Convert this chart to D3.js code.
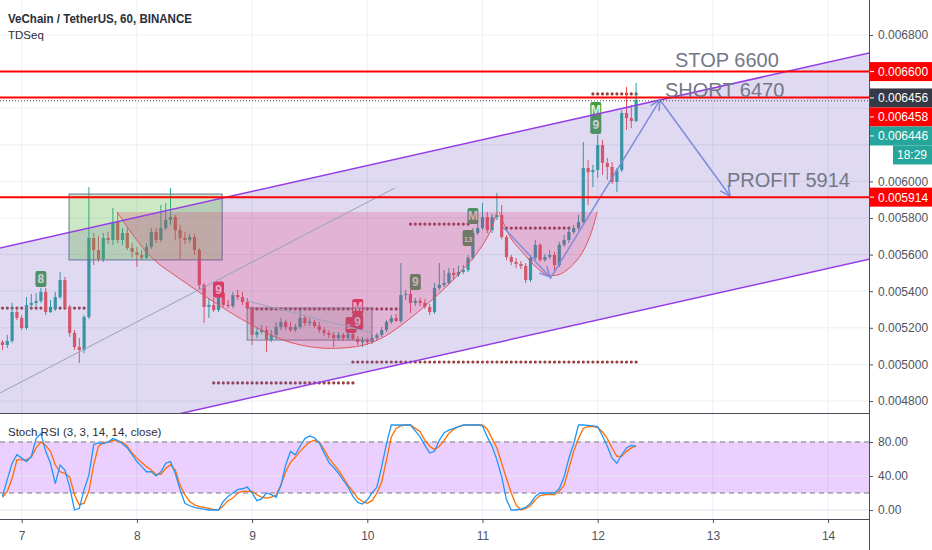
<!DOCTYPE html>
<html>
<head>
<meta charset="utf-8">
<script src="https://cdn.jsdelivr.net/npm/d3@7"></script>
<style>
  body { margin: 0; background: #fff; }
  svg { display: block; font-family: "Liberation Sans", Arial, sans-serif; }
</style>
</head>
<body>
<svg width="932" height="550"></svg>
<script>
// VET/USDT hourly bars, first bar opens on the 6th at 20:00
var firstBar = Date.UTC(2019, 9, 6, 20);

var open = [0.005122,0.005106,0.005128,0.005286,0.005254,0.005199,0.005325,0.005336,0.005347,0.005396,
  0.005286,0.005303,0.005368,0.005461,0.005314,0.005172,0.005095,0.005079,0.005259,0.005691,
  0.005625,0.005576,0.005691,0.005680,0.005778,0.005680,0.005718,0.005636,0.005614,0.005598,
  0.005582,0.005642,0.005724,0.005680,0.005745,0.005789,0.005805,0.005734,0.005691,0.005680,
  0.005696,0.005625,0.005434,0.005314,0.005325,0.005297,0.005390,0.005325,0.005319,0.005379,
  0.005368,0.005341,0.005308,0.005161,0.005177,0.005188,0.005133,0.005161,0.005204,0.005232,
  0.005204,0.005188,0.005204,0.005254,0.005226,0.005232,0.005210,0.005188,0.005172,0.005161,
  0.005144,0.005161,0.005144,0.005166,0.005139,0.005122,0.005133,0.005122,0.005144,0.005161,
  0.005188,0.005232,0.005254,0.005237,0.005379,0.005385,0.005336,0.005347,0.005336,0.005314,
  0.005286,0.005418,0.005434,0.005445,0.005500,0.005489,0.005505,0.005516,0.005582,0.005718,
  0.005745,0.005805,0.005734,0.005805,0.005816,0.005696,0.005587,0.005560,0.005549,0.005538,
  0.005461,0.005582,0.005653,0.005571,0.005587,0.005598,0.005543,0.005653,0.005680,0.005724,
  0.005745,0.005778,0.006073,0.006051,0.006062,0.006199,0.006101,0.006079,0.005997,0.006062,
  0.006374,0.006346,0.006330];
var high = [0.005133,0.005161,0.005336,0.005308,0.005270,0.005368,0.005385,0.005390,0.005418,0.005418,
  0.005352,0.005396,0.005505,0.005478,0.005325,0.005188,0.005144,0.005270,0.005969,0.005718,
  0.005702,0.005718,0.005724,0.005855,0.005833,0.005745,0.005745,0.005663,0.005642,0.005625,
  0.005663,0.005745,0.005745,0.005871,0.005882,0.005964,0.005816,0.005762,0.005724,0.005713,
  0.005713,0.005636,0.005445,0.005363,0.005363,0.005407,0.005407,0.005352,0.005396,0.005407,
  0.005396,0.005363,0.005319,0.005204,0.005215,0.005210,0.005188,0.005232,0.005254,0.005243,
  0.005232,0.005221,0.005297,0.005270,0.005254,0.005243,0.005232,0.005204,0.005188,0.005177,
  0.005177,0.005172,0.005188,0.005183,0.005155,0.005150,0.005144,0.005161,0.005172,0.005204,
  0.005243,0.005270,0.005276,0.005554,0.005407,0.005407,0.005363,0.005363,0.005357,0.005330,
  0.005445,0.005554,0.005516,0.005527,0.005527,0.005538,0.005543,0.005598,0.005745,0.005778,
  0.005882,0.005833,0.005822,0.005937,0.005871,0.005707,0.005598,0.005582,0.005565,0.005554,
  0.005598,0.005680,0.005663,0.005603,0.005625,0.005614,0.005669,0.005707,0.005745,0.005762,
  0.005816,0.006215,0.006117,0.006090,0.006254,0.006226,0.006128,0.006106,0.006073,0.006390,
  0.006516,0.006417,0.006538];
var low = [0.005079,0.005090,0.005117,0.005243,0.005188,0.005188,0.005297,0.005319,0.005336,0.005270,
  0.005281,0.005292,0.005357,0.005303,0.005150,0.005079,0.005008,0.005062,0.005248,0.005543,
  0.005560,0.005560,0.005658,0.005653,0.005663,0.005653,0.005625,0.005582,0.005532,0.005571,
  0.005576,0.005631,0.005663,0.005669,0.005734,0.005762,0.005680,0.005571,0.005658,0.005663,
  0.005598,0.005407,0.005226,0.005254,0.005286,0.005286,0.005314,0.005308,0.005308,0.005352,
  0.005325,0.005297,0.005106,0.005144,0.005166,0.005068,0.005122,0.005133,0.005188,0.005188,
  0.005177,0.005177,0.005194,0.005210,0.005210,0.005199,0.005172,0.005155,0.005144,0.005095,
  0.005133,0.005128,0.005133,0.005128,0.005106,0.005095,0.005106,0.005112,0.005133,0.005150,
  0.005177,0.005221,0.005232,0.005226,0.005352,0.005281,0.005319,0.005319,0.005303,0.005270,
  0.005276,0.005407,0.005423,0.005434,0.005461,0.005478,0.005494,0.005505,0.005571,0.005707,
  0.005734,0.005718,0.005718,0.005789,0.005685,0.005571,0.005543,0.005527,0.005521,0.005445,
  0.005450,0.005571,0.005560,0.005560,0.005576,0.005500,0.005532,0.005642,0.005663,0.005713,
  0.005734,0.005767,0.005871,0.005969,0.006019,0.006035,0.006008,0.005986,0.005942,0.006051,
  0.006281,0.006292,0.006325];
var close = [0.005106,0.005128,0.005286,0.005254,0.005199,0.005325,0.005336,0.005347,0.005396,0.005286,
  0.005303,0.005368,0.005461,0.005314,0.005172,0.005095,0.005079,0.005259,0.005691,0.005625,
  0.005576,0.005691,0.005680,0.005778,0.005680,0.005718,0.005636,0.005614,0.005598,0.005582,
  0.005642,0.005724,0.005680,0.005745,0.005789,0.005805,0.005734,0.005691,0.005680,0.005696,
  0.005625,0.005434,0.005314,0.005325,0.005297,0.005390,0.005325,0.005319,0.005379,0.005368,
  0.005341,0.005308,0.005161,0.005177,0.005188,0.005133,0.005161,0.005204,0.005232,0.005204,
  0.005188,0.005204,0.005254,0.005226,0.005232,0.005210,0.005188,0.005172,0.005161,0.005144,
  0.005161,0.005144,0.005166,0.005139,0.005122,0.005133,0.005122,0.005144,0.005161,0.005188,
  0.005232,0.005254,0.005237,0.005379,0.005385,0.005336,0.005347,0.005336,0.005314,0.005286,
  0.005418,0.005434,0.005445,0.005500,0.005489,0.005505,0.005516,0.005582,0.005718,0.005745,
  0.005805,0.005734,0.005805,0.005816,0.005696,0.005587,0.005560,0.005549,0.005538,0.005461,
  0.005582,0.005653,0.005571,0.005587,0.005598,0.005543,0.005653,0.005680,0.005724,0.005745,
  0.005778,0.006073,0.006051,0.006062,0.006199,0.006101,0.006079,0.005997,0.006062,0.006374,
  0.006346,0.006330,0.006446];

// Stoch RSI (3, 3, 14, 14, close)
var stochK = [16,36,55,65,61,57,63,84,90,69, 55,31,53,47,27,0,2,24,41,77,
  79,78,80,84,82,78,73,65,57,51, 45,45,40,45,55,57,43,24,8,5,
  3,2,1,0,0,0,10,16,20,24, 25,27,20,11,13,20,18,15,29,53,
  69,65,75,84,87,85,79,67,56,50, 43,35,27,16,9,7,12,20,27,51,
  78,100,100,100,100,100,93,86,76,67, 69,82,91,94,96,98,100,100,100,100,
  99,86,75,59,39,12,0,0,1,3, 8,16,20,20,20,20,25,39,61,78,
  100,100,99.6,99,98,87,75,61,55,65, 73,76,75];
var stochD = [15,22,37,59,59,59,62,73,80,76, 69,53,45,43,39,18,6,8,22,53,
  75,79,80,82,81,80,75,67,61,56, 51,47,42,42,49,53,47,29,18,10,
  6,4,3,2,0.5,0,5,11,14,20, 22,22,22,18,15,14,15,18,29,45,
  56,62,69,75,80,82,80,71,61,54, 47,38,29,22,14,10,8,11,20,33,
  59,86,96,99,100,100,96,92,82,75, 71,75,82,90,95,98,99.6,100,100,100,
  100,95,84,73,55,37,20,6,0,2, 5,12,17,18,18,18,22,29,49,69,
  84,96,98,98,97,92,84,73,63,63, 69,73,75];

var priceTicks = [0.0048,0.005,0.0052,0.0054,0.0056,0.0058,0.006,0.0062,0.0064,0.0066,0.0068];
var rsiTicks = [0, 40, 80];

// TD sequential dotted levels: first bar, last bar, price
var tdstFrom  = [0, 44, 52, 73, 85, 105, 123];
var tdstTo    = [17, 73, 83, 132, 97, 118, 132];
var tdstPrice = [0.005308, 0.004899, 0.005303, 0.005013, 0.005767, 0.005745, 0.006478];

// TD count boxes
var tdBar   = [8, 45, 72.6, 74, 74, 86, 97, 98, 123.6];
var tdPrice = [0.005467, 0.005409, 0.005215, 0.005232, 0.005314, 0.005450, 0.005691, 0.005811, 0.006346];
var tdText  = ["8", "9", "13", "9", "M", "9", "13", "M", "M|9"];
var tdSide  = ["buy", "sell", "sell", "sell", "sell", "buy", "buy", "buy", "buy"];

// drawings (day of month, price)
var channelTop    = [[7, 0.005663], [14, 0.006651]];
var channelBottom = [[7, 0.004537], [14, 0.005525]];
var hLines = [0.0066, 0.006458, 0.005914];
var trendLine = [[6.812, 0.004844], [10.240, 0.005964]];
var boxTrend  = [[8.957, 0.005347], [10.041, 0.005172]];
var greenBox = [[7.411, 0.005931], [8.740, 0.005571]];
var greyBox  = [[8.957, 0.005308], [10.041, 0.005133]];
var bigArcDay   = [7.827, 8.114, 8.400, 8.695, 8.982, 9.268, 9.589, 9.936, 10.110, 10.310, 10.657, 10.866, 10.979, 11.065, 11.126];
var bigArcPrice = [0.005833, 0.005592, 0.005456, 0.005330, 0.005221, 0.005133, 0.005090, 0.005101, 0.005139, 0.005221, 0.005407, 0.005543, 0.005631, 0.005724, 0.005833];
var cupDay   = [11.143, 11.178, 11.256, 11.352, 11.473, 11.569, 11.655, 11.734, 11.847, 11.934, 11.995];
var cupPrice = [0.005833, 0.005778, 0.005680, 0.005609, 0.005527, 0.005489, 0.005489, 0.005516, 0.005592, 0.005702, 0.005833];
var arrows = [
  [[11.178, 0.005751], [11.586, 0.005478]],
  [[11.586, 0.005467], [12.541, 0.006445]],
  [[12.541, 0.006445], [13.149, 0.005920]]
];
var noteText  = ["STOP 6600", "SHORT 6470", "PROFIT 5914"];
var noteDay   = [12.671, 12.584, 13.122];
var notePrice = [0.006625, 0.006461, 0.005969];

// right axis price tags
var tagPrice = [0.0066, 0.006456, 0.006458, 0.006446, 0.005914];
var tagColor = ["#ff0000", "#363a45", "#ff0000", "#26a69a", "#ff0000"];
var lastPrice = 0.006446, countdown = "18:29";

var svg = d3.select("svg");
var font = '"Liberation Sans", Arial, sans-serif';
var paneRight = 869, mainBottom = 413, rsiTop = 414, rsiBottom = 519;

var t0 = new Date(Date.UTC(2019, 9, 7)), t1 = new Date(Date.UTC(2019, 9, 14));
var x = d3.scaleUtc().domain([t0, t1]).range([21.7, 828.1]);
var y = d3.scaleLinear().domain([0.0048, 0.0068]).range([401, 35]);
var yr = d3.scaleLinear().domain([0, 100]).range([510, 425]);

function barTime(i) { return new Date(firstBar + i * 3600e3); }
function dayTime(d) { return new Date(Date.UTC(2019, 9, 1) + (d - 1) * 864e5); }
function px(p) { return [x(dayTime(p[0])), y(p[1])]; }
function lineAt(a, b, d) { return a[1] + (b[1] - a[1]) * (d - a[0]) / (b[0] - a[0]); }

var defs = svg.append("defs");
defs.append("clipPath").attr("id", "clipMain")
  .append("rect").attr("width", paneRight).attr("height", mainBottom);
defs.append("clipPath").attr("id", "clipRsi")
  .append("rect").attr("y", rsiTop).attr("width", paneRight).attr("height", rsiBottom - rsiTop);
defs.append("marker").attr("id", "head")
  .attr("viewBox", "0 0 12 12").attr("refX", 11).attr("refY", 6)
  .attr("markerWidth", 12).attr("markerHeight", 12)
  .attr("markerUnits", "userSpaceOnUse").attr("orient", "auto")
  .append("path").attr("d", "M1,1 L11,6 L1,11")
  .attr("fill", "none").attr("stroke", "#7d8ddb").attr("stroke-width", 1.5);

// grid
var dayTicks = d3.utcDay.range(t0, dayTime(15));
svg.append("g").selectAll("line").data(dayTicks).join("line")
  .attr("x1", d => x(d)).attr("x2", d => x(d))
  .attr("y1", 0).attr("y2", rsiBottom)
  .attr("stroke", "#eceff4");
svg.append("g").selectAll("line").data(priceTicks).join("line")
  .attr("x1", 0).attr("x2", paneRight)
  .attr("y1", d => y(d)).attr("y2", d => y(d))
  .attr("stroke", "#eceff4");

var main = svg.append("g").attr("clip-path", "url(#clipMain)");

// TDST dots
tdstPrice.forEach(function(p, k) {
  main.append("g").selectAll("circle").data(d3.range(tdstFrom[k], tdstTo[k] + 1)).join("circle")
    .attr("cx", i => x(barTime(i))).attr("cy", y(p)).attr("r", 1.6)
    .attr("fill", "#9a3d3d");
});

// candles
var bars = d3.range(close.length);
var candle = main.append("g").selectAll("g").data(bars).join("g")
  .attr("fill", i => close[i] >= open[i] ? "#26a69a" : "#ef5350")
  .attr("stroke", i => close[i] >= open[i] ? "#26a69a" : "#ef5350");
candle.append("line")
  .attr("x1", i => x(barTime(i))).attr("x2", i => x(barTime(i)))
  .attr("y1", i => y(high[i])).attr("y2", i => y(low[i]))
  .attr("stroke-width", 1);
candle.append("rect")
  .attr("x", i => x(barTime(i)) - 1.6).attr("width", 3.2)
  .attr("y", i => y(Math.max(open[i], close[i])))
  .attr("height", i => Math.max(1, Math.abs(y(open[i]) - y(close[i]))))
  .attr("stroke", "none");

// TD count boxes
tdBar.forEach(function(b, k) {
  var lines = tdText[k].split("|");
  var h = 16 * lines.length;
  var g = main.append("g").attr("transform", "translate(" + x(barTime(b)) + "," + y(tdPrice[k]) + ")");
  g.append("rect").attr("x", -5.5).attr("y", -h / 2).attr("width", 11).attr("height", h).attr("rx", 2)
    .attr("fill", tdSide[k] == "buy" ? "#43a047" : "#f23645");
  lines.forEach(function(s, j) {
    g.append("text").attr("y", -h / 2 + 12 + j * 15).attr("text-anchor", "middle")
      .attr("font-size", s.length > 1 ? 8 : 12).attr("font-weight", "bold")
      .attr("fill", tdSide[k] == "buy" ? "#e3f5dc" : "#fff").text(s);
  });
});

// parallel channel
var ends = [6.5, 14.6];
var up = ends.map(d => [d, lineAt(channelTop[0], channelTop[1], d)]);
var dn = ends.map(d => [d, lineAt(channelBottom[0], channelBottom[1], d)]);
var poly = d3.line();
main.append("path").attr("d", poly(up.concat(dn.slice().reverse()).map(px)) + "Z")
  .attr("fill", "rgba(120,95,195,0.24)");

// rectangles
main.append("rect")
  .attr("x", px(greenBox[0])[0]).attr("y", px(greenBox[0])[1])
  .attr("width", px(greenBox[1])[0] - px(greenBox[0])[0])
  .attr("height", px(greenBox[1])[1] - px(greenBox[0])[1])
  .attr("fill", "rgba(90,180,60,0.3)").attr("stroke", "#66759a");
main.append("rect")
  .attr("x", px(greyBox[0])[0]).attr("y", px(greyBox[0])[1])
  .attr("width", px(greyBox[1])[0] - px(greyBox[0])[0])
  .attr("height", px(greyBox[1])[1] - px(greyBox[0])[1])
  .attr("fill", "rgba(120,123,134,0.22)").attr("stroke", "#7a8095");

// arcs
var arcLine = d3.line().curve(d3.curveCatmullRom);
function drawArc(days, prices) {
  var pts = days.map((d, i) => px([d, prices[i]]));
  main.append("path").attr("d", arcLine(pts) + "Z").attr("fill", "rgba(233,30,99,0.2)");
  main.append("path").attr("d", arcLine(pts)).attr("fill", "none")
    .attr("stroke", "#e2555f").attr("stroke-width", 1);
}
drawArc(bigArcDay, bigArcPrice);
drawArc(cupDay, cupPrice);

// trend lines
[trendLine, boxTrend].forEach(function(l) {
  main.append("path").attr("d", poly(l.map(px)))
    .attr("stroke", "#9aa3b8").attr("stroke-width", 1).attr("fill", "none");
});

// channel borders
[up, dn].forEach(function(l) {
  main.append("path").attr("d", poly(l.map(px)))
    .attr("stroke", "#963ce6").attr("stroke-width", 1.5).attr("fill", "none");
});

// arrows
arrows.forEach(function(a) {
  main.append("path").attr("d", poly(a.map(px)))
    .attr("stroke", "#7d8ddb").attr("stroke-width", 1.5).attr("fill", "none")
    .attr("marker-end", "url(#head)");
});

// horizontal levels
main.append("line").attr("x1", 0).attr("x2", paneRight)
  .attr("y1", y(lastPrice) + 1).attr("y2", y(lastPrice) + 1)
  .attr("stroke", "#4a4e59").attr("stroke-dasharray", "1,2");
main.append("g").selectAll("line").data(hLines).join("line")
  .attr("x1", 0).attr("x2", paneRight)
  .attr("y1", d => y(d)).attr("y2", d => y(d))
  .attr("stroke", "#ff0000").attr("stroke-width", 2);

// notes
main.append("g").selectAll("text").data(noteText).join("text")
  .attr("x", (d, i) => x(dayTime(noteDay[i])))
  .attr("y", (d, i) => y(notePrice[i]))
  .attr("font-size", 20).attr("fill", "#737886")
  .text(d => d);

// legend
svg.append("text").attr("x", 8).attr("y", 23).attr("font-size", 12).attr("font-weight", "bold")
  .attr("fill", "#2a2e39").attr("textLength", 184).attr("lengthAdjust", "spacingAndGlyphs")
  .text("VeChain / TetherUS, 60, BINANCE");
svg.append("text").attr("x", 8).attr("y", 39).attr("font-size", 11.5)
  .attr("fill", "#2a2e39").text("TDSeq");

// Stoch RSI pane
var rsi = svg.append("g").attr("clip-path", "url(#clipRsi)");
rsi.append("rect").attr("x", 0).attr("width", paneRight)
  .attr("y", yr(80)).attr("height", yr(20) - yr(80))
  .attr("fill", "rgba(153,21,255,0.2)");
rsi.append("g").selectAll("line").data(rsiTicks).join("line")
  .attr("x1", 0).attr("x2", paneRight)
  .attr("y1", d => yr(d)).attr("y2", d => yr(d))
  .attr("stroke", "#e6e1f0");
rsi.append("g").selectAll("line").data([80, 20]).join("line")
  .attr("x1", 0).attr("x2", paneRight)
  .attr("y1", d => yr(d)).attr("y2", d => yr(d))
  .attr("stroke", "#787b86").attr("stroke-dasharray", "5,4");
var rsiLine = d3.line().x((d, i) => x(barTime(i))).y(d => yr(d));
rsi.append("path").datum(stochD).attr("d", rsiLine)
  .attr("fill", "none").attr("stroke", "#ff6d00").attr("stroke-width", 1.3);
rsi.append("path").datum(stochK).attr("d", rsiLine)
  .attr("fill", "none").attr("stroke", "#2196f3").attr("stroke-width", 1.3);
svg.append("text").attr("x", 8).attr("y", 436).attr("font-size", 11.5)
  .attr("fill", "#2a2e39").text("Stoch RSI (3, 3, 14, 14, close)");

// price tag positions, pushed down when they collide
var tagH = 19, lastBottom = -Infinity, tagBoxes = [];
tagPrice.forEach(function(p, k) {
  var cy = Math.max(y(p), lastBottom + tagH / 2);
  tagBoxes.push({ k: k, cy: cy, top: cy - tagH / 2, bottom: cy + tagH / 2, count: p === lastPrice });
  lastBottom = cy + tagH / 2;
  if (p === lastPrice) lastBottom += tagH;
});
function underTag(v) {
  return tagBoxes.some(b => v > b.top - 4 && v < b.bottom + (b.count ? tagH : 0) + 4);
}

// axes
function styleAxis(g) {
  g.select(".domain").remove();
  g.attr("font-size", 12).attr("font-family", font);
  g.selectAll("text").attr("fill", "#50535e");
  g.selectAll("line").attr("stroke", "#50535e");
}
svg.append("g").attr("transform", "translate(" + paneRight + ",0)")
  .call(d3.axisRight(y).tickValues(priceTicks.filter(p => !underTag(y(p))))
    .tickFormat(d3.format(".6f")).tickSize(4).tickPadding(5))
  .call(styleAxis);
svg.append("g").attr("transform", "translate(" + paneRight + ",0)")
  .call(d3.axisRight(yr).tickValues(rsiTicks).tickFormat(d3.format(".2f")).tickSize(4).tickPadding(5))
  .call(styleAxis);
svg.append("g").attr("transform", "translate(0," + rsiBottom + ")")
  .call(d3.axisBottom(x).tickValues(dayTicks).tickFormat(d3.utcFormat("%-d")).tickSize(4).tickPadding(8))
  .call(styleAxis);

// pane borders
svg.append("line").attr("x1", 0).attr("x2", paneRight).attr("y1", 413.5).attr("y2", 413.5).attr("stroke", "#4a4e59");
svg.append("line").attr("x1", 0).attr("x2", paneRight).attr("y1", 519.5).attr("y2", 519.5).attr("stroke", "#4a4e59");
svg.append("line").attr("x1", paneRight + 0.5).attr("x2", paneRight + 0.5).attr("y1", 0).attr("y2", 550).attr("stroke", "#4a4e59");

// price tags
tagBoxes.forEach(function(b) {
  var g = svg.append("g");
  g.append("rect").attr("x", paneRight + 1).attr("y", b.top).attr("width", 932 - paneRight).attr("height", tagH)
    .attr("fill", tagColor[b.k]);
  g.append("line").attr("x1", paneRight + 1).attr("x2", paneRight + 5).attr("y1", b.cy).attr("y2", b.cy)
    .attr("stroke", "#fff");
  g.append("text").attr("x", 878).attr("y", b.cy + 4.5).attr("font-size", 12).attr("fill", "#fff")
    .text(d3.format(".6f")(tagPrice[b.k]));
  if (b.count) {
    g.append("rect").attr("x", 893).attr("y", b.bottom).attr("width", 39).attr("height", tagH)
      .attr("fill", tagColor[b.k]);
    g.append("text").attr("x", 912).attr("y", b.bottom + 14).attr("text-anchor", "middle")
      .attr("font-size", 12).attr("fill", "#fff").text(countdown);
  }
});
</script>
</body>
</html>
